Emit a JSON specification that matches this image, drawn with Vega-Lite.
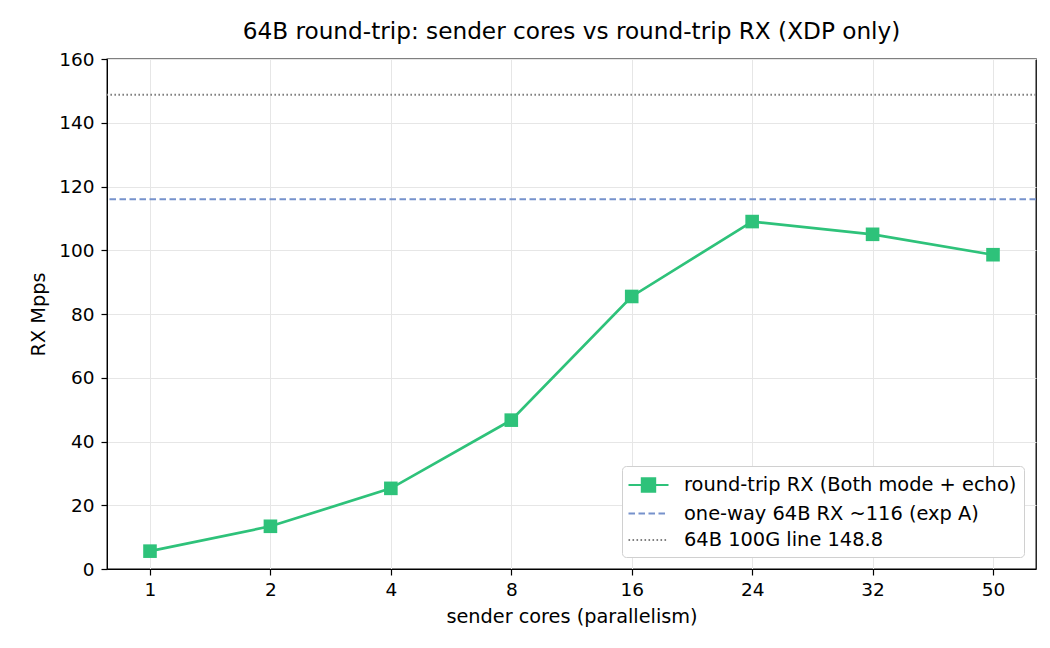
{
  "$schema": "https://vega.github.io/schema/vega-lite/v6.json",
  "width": 929,
  "height": 510,
  "autosize": {"type": "none"},
  "padding": {"left": 107, "top": 59, "right": 14, "bottom": 79},
  "background": "white",
  "title": {
    "text": "64B round-trip: sender cores vs round-trip RX (XDP only)",
    "fontSize": 23.2,
    "font": "DejaVu Sans",
    "fontWeight": "normal",
    "color": "#000000",
    "anchor": "middle",
    "offset": 6
  },
  "config": {
    "font": "DejaVu Sans",
    "view": {"stroke": "#000000", "strokeWidth": 1.3},
    "axis": {
      "labelFont": "DejaVu Sans",
      "titleFont": "DejaVu Sans",
      "labelFontSize": 18.5,
      "titleFontSize": 19.3,
      "titleFontWeight": "normal",
      "labelColor": "#000000",
      "titleColor": "#000000",
      "domainColor": "#000000",
      "tickColor": "#000000",
      "tickSize": 6,
      "tickWidth": 1.2,
      "gridColor": "#e6e6e6",
      "gridWidth": 1
    }
  },
  "encoding": {
    "y": {
      "field": "mpps",
      "type": "quantitative",
      "scale": {"domain": [0, 160], "nice": false},
      "axis": {
        "title": "RX Mpps",
        "values": [0, 20, 40, 60, 80, 100, 120, 140, 160],
        "labelPadding": 7,
        "titlePadding": 10
      }
    },
    "color": {
      "field": "series",
      "type": "nominal",
      "scale": {
        "domain": ["round-trip RX (Both mode + echo)", "one-way 64B RX ~116 (exp A)", "64B 100G line 148.8"],
        "range": ["#2ec27a", "#7792cc", "#808080"]
      },
      "legend": {
        "title": null,
        "orient": "none",
        "legendX": 515,
        "legendY": 407,
        "fillColor": "white",
        "strokeColor": "#d0d0d0",
        "cornerRadius": 4,
        "padding": 7.5,
        "rowPadding": 5.5,
        "labelOffset": 24,
        "symbolOffset": 7.5,
        "symbolSize": 400,
        "symbolStrokeWidth": 2.2,
        "labelFont": "DejaVu Sans",
        "labelFontSize": 19.4,
        "labelLimit": 0,
        "labelColor": "#000000",
        "encode": {
          "symbols": {
            "update": {
              "shape": {"signal": "datum.value === 'round-trip RX (Both mode + echo)' ? 'M-2,0H2M-0.66,-0.66H0.66V0.66H-0.66Z' : 'M-2,0H2'"},
              "fill": {"signal": "datum.value === 'round-trip RX (Both mode + echo)' ? '#2ec27a' : 'transparent'"},
              "strokeDash": {"signal": "datum.value === 'one-way 64B RX ~116 (exp A)' ? [6.5, 3.5] : (datum.value === '64B 100G line 148.8' ? [1.6, 2.4] : [1, 0])"},
              "opacity": {"value": 1}
            }
          }
        }
      }
    }
  },
  "layer": [
    {
      "data": {"values": [{"series": "one-way 64B RX ~116 (exp A)", "mpps": 116}]},
      "mark": {"type": "rule", "strokeDash": [6.5, 3.5], "strokeWidth": 2.1}
    },
    {
      "data": {"values": [{"series": "64B 100G line 148.8", "mpps": 148.8}]},
      "mark": {"type": "rule", "strokeDash": [1.6, 2.4], "strokeWidth": 2.1}
    },
    {
      "data": {
        "values": [
          {"series": "round-trip RX (Both mode + echo)", "cores": 1, "mpps": 5.6},
          {"series": "round-trip RX (Both mode + echo)", "cores": 2, "mpps": 13.4},
          {"series": "round-trip RX (Both mode + echo)", "cores": 4, "mpps": 25.3},
          {"series": "round-trip RX (Both mode + echo)", "cores": 8, "mpps": 46.7},
          {"series": "round-trip RX (Both mode + echo)", "cores": 16, "mpps": 85.5},
          {"series": "round-trip RX (Both mode + echo)", "cores": 24, "mpps": 109.0},
          {"series": "round-trip RX (Both mode + echo)", "cores": 32, "mpps": 105.0},
          {"series": "round-trip RX (Both mode + echo)", "cores": 50, "mpps": 98.6}
        ]
      },
      "encoding": {
        "x": {
          "field": "cores",
          "type": "ordinal",
          "scale": {"type": "point", "padding": 0.357},
          "axis": {"title": "sender cores (parallelism)", "labelAngle": 0, "labelPadding": 5, "titlePadding": 9, "grid": true}
        }
      },
      "layer": [
        {"mark": {"type": "line", "strokeWidth": 2.7}},
        {"mark": {"type": "point", "shape": "square", "filled": true, "size": 185, "opacity": 1}}
      ]
    }
  ]
}
